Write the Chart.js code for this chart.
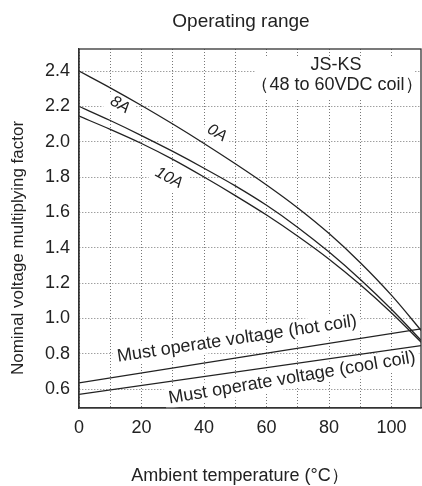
<!DOCTYPE html>
<html>
<head>
<meta charset="utf-8">
<script src="https://cdn.jsdelivr.net/npm/chart.js@4"></script>
<style>
  html, body { margin: 0; padding: 0; background: #fff; }
  #wrap { width: 422px; height: 486px; }
</style>
</head>
<body>
<div id="wrap"><canvas id="chart" width="422" height="486"></canvas></div>
<script>
// temperatures (°C) for the current curves
const temps = [0, 10, 20, 30, 40, 50, 60, 70, 80, 90, 100, 110];
const curve0A  = [2.40, 2.305, 2.205, 2.10, 1.99, 1.875, 1.755, 1.625, 1.48, 1.315, 1.13, 0.92];
const curve8A  = [2.20, 2.12, 2.035, 1.945, 1.85, 1.75, 1.64, 1.515, 1.375, 1.22, 1.05, 0.865];
const curve10A = [2.145, 2.07, 1.99, 1.90, 1.80, 1.695, 1.585, 1.465, 1.335, 1.19, 1.03, 0.855];

// straight must-operate lines
const lineTemps = [0, 110];
const hotCoil  = [0.635, 0.942];
const coolCoil = [0.57, 0.847];

const xTicks = [0, 10, 20, 30, 40, 50, 60, 70, 80, 90, 100];
const yTicks = [0.6, 0.8, 1.0, 1.2, 1.4, 1.6, 1.8, 2.0, 2.2, 2.4];

const FONT = "'Liberation Sans', Arial, sans-serif";
const INK = '#222';

function pts(xs, ys) {
    return xs.map((x, i) => ({ x: x, y: ys[i] }));
}

function lineSet(data) {
    return {
        data: data,
        borderColor: INK,
        borderWidth: 1.3,
        pointRadius: 0,
        fill: false,
        cubicInterpolationMode: 'monotone'
    };
}

// text drawn on white patches so the grid breaks behind it
const labels = [
    { text: '8A', x: 120, y: 105, angle: 31, font: 'italic 16px ' + FONT },
    { text: '0A', x: 217, y: 133, angle: 30, font: 'italic 16px ' + FONT },
    { text: '10A', x: 169, y: 178, angle: 28, font: 'italic 16px ' + FONT },
    { text: 'Must operate voltage (hot coil)', x: 237, y: 339, angle: -8.5, font: '18px ' + FONT },
    { text: 'Must operate voltage (cool coil)', x: 292, y: 378, angle: -9.5, font: '18px ' + FONT }
];

const textPlugin = {
    id: 'textPlugin',
    beforeDatasetsDraw(chart) {
        const ctx = chart.ctx;
        ctx.save();
        // JS-KS note box
        ctx.fillStyle = '#fff';
        ctx.fillRect(255, 57, 160, 42);
        ctx.fillStyle = INK;
        ctx.font = '18px ' + FONT;
        ctx.textAlign = 'center';
        ctx.textBaseline = 'middle';
        ctx.fillText('JS-KS', 336, 65);
        ctx.fillText('（48 to 60VDC coil）', 337, 85);

        labels.forEach(l => {
            ctx.save();
            ctx.translate(l.x, l.y);
            ctx.rotate(l.angle * Math.PI / 180);
            ctx.font = l.font;
            const w = ctx.measureText(l.text).width;
            ctx.fillStyle = '#fff';
            ctx.fillRect(-w / 2 - 4, -10, w + 8, 20);
            ctx.fillStyle = INK;
            ctx.textAlign = 'center';
            ctx.textBaseline = 'middle';
            ctx.fillText(l.text, 0, 0);
            ctx.restore();
        });
        ctx.restore();
    },
    afterDraw(chart) {
        const ctx = chart.ctx;
        const a = chart.chartArea;
        ctx.save();
        // frame
        ctx.strokeStyle = '#333';
        ctx.lineWidth = 1.3;
        ctx.strokeRect(a.left, a.top, a.right - a.left, a.bottom - a.top);

        ctx.fillStyle = INK;
        ctx.textAlign = 'center';
        ctx.textBaseline = 'middle';
        ctx.font = '19px ' + FONT;
        ctx.fillText('Operating range', 241, 22);
        ctx.font = '18px ' + FONT;
        ctx.fillText('Ambient temperature (°C）', 240, 476);

        ctx.translate(18, 248);
        ctx.rotate(-Math.PI / 2);
        ctx.font = '17px ' + FONT;
        ctx.fillText('Nominal voltage multiplying factor', 0, 0);
        ctx.restore();
    }
};

new Chart(document.getElementById('chart'), {
    type: 'line',
    data: {
        datasets: [
            lineSet(pts(temps, curve0A)),
            lineSet(pts(temps, curve8A)),
            lineSet(pts(temps, curve10A)),
            lineSet(pts(lineTemps, hotCoil)),
            lineSet(pts(lineTemps, coolCoil))
        ]
    },
    options: {
        responsive: false,
        animation: false,
        layout: { padding: { top: 49, right: 1, left: 0, bottom: 0 } },
        plugins: {
            legend: { display: false },
            tooltip: { enabled: false },
            title: { display: false }
        },
        scales: {
            x: {
                type: 'linear',
                min: 0,
                max: 109.4,
                afterBuildTicks: s => { s.ticks = xTicks.map(v => ({ value: v })); },
                afterFit: s => { s.height = 78; },
                ticks: {
                    padding: 9,
                    color: INK,
                    font: { family: FONT, size: 18 },
                    maxRotation: 0,
                    callback: v => (v % 20 === 0 ? String(v) : '')
                },
                grid: { color: '#777', lineWidth: 1, drawTicks: false },
                border: { display: true, color: '#333', width: 1.3, dash: [1, 2] }
            },
            y: {
                min: 0.4925,
                max: 2.525,
                afterBuildTicks: s => { s.ticks = yTicks.map(v => ({ value: v })); },
                afterFit: s => { s.width = 79; },
                ticks: {
                    padding: 9,
                    color: INK,
                    font: { family: FONT, size: 18 },
                    callback: v => v.toFixed(1)
                },
                grid: { color: '#777', lineWidth: 1, drawTicks: false },
                border: { display: true, color: '#333', width: 1.3, dash: [1, 2] }
            }
        }
    },
    plugins: [textPlugin]
});
</script>
</body>
</html>
